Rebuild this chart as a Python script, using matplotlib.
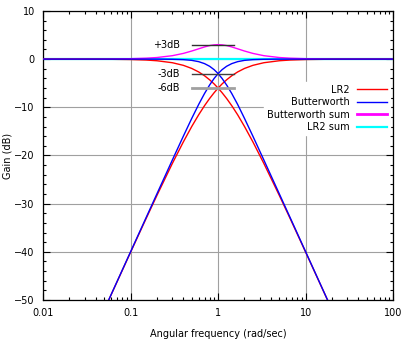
import matplotlib
matplotlib.use("Agg")
import matplotlib.pyplot as plt
from matplotlib.ticker import LogLocator, MultipleLocator, NullFormatter

# angular frequency (rad/sec)
freq = [0.01, 0.02, 0.05, 0.1, 0.15, 0.2, 0.3, 0.4, 0.5, 0.6, 0.7, 0.8, 0.9, 1.0,
        1.11, 1.25, 1.43, 1.67, 2.0, 2.5, 3.33, 5.0, 6.67, 10, 20, 50, 100]

# gain in dB
lr2_low = [0, 0, -0.02, -0.09, -0.19, -0.34, -0.75, -1.29, -1.94, -2.67, -3.46, -4.30, -5.15, -6.02,
           -6.98, -8.17, -9.66, -11.55, -13.98, -17.21, -21.66, -28.30, -33.15, -40.09, -52.06, -67.96, -80.0]
lr2_high = [-80.0, -67.96, -52.06, -40.09, -33.15, -28.30, -21.66, -17.21, -13.98, -11.55, -9.66, -8.17, -6.98, -6.02,
            -5.15, -4.30, -3.46, -2.67, -1.94, -1.29, -0.75, -0.34, -0.19, -0.09, -0.02, 0, 0]
bw_low = [0, 0, 0, 0, 0, -0.01, -0.04, -0.11, -0.26, -0.53, -0.94, -1.49, -2.19, -3.01,
          -4.02, -5.37, -7.13, -9.40, -12.30, -16.03, -20.95, -27.97, -32.96, -40.0, -52.04, -67.96, -80.0]
bw_high = [-80.0, -67.96, -52.04, -40.0, -32.96, -27.97, -20.95, -16.03, -12.30, -9.40, -7.13, -5.37, -4.02, -3.01,
           -2.19, -1.49, -0.94, -0.53, -0.26, -0.11, -0.04, -0.01, 0, 0, 0, 0, 0]
bw_sum = [0, 0, 0.02, 0.09, 0.19, 0.33, 0.71, 1.18, 1.68, 2.14, 2.53, 2.81, 2.96, 3.01,
          2.96, 2.81, 2.53, 2.14, 1.68, 1.18, 0.71, 0.33, 0.19, 0.09, 0.02, 0, 0]
lr2_sum = [0] * len(freq)

# reference level markers
mark_labels = ["+3dB", "-3dB", "-6dB"]
mark_levels = [3, -3, -6]
mark_colors = ["#303030", "#404040", "#a0a0a0"]
mark_widths = [1.0, 1.0, 2.0]

plt.rcParams["font.family"] = "DejaVu Sans"
plt.rcParams["font.size"] = 6.5

fig = plt.figure(figsize=(4.1, 3.42), dpi=100)
ax = fig.add_axes([0.105, 0.123, 0.854, 0.845])

ax.plot(freq, lr2_sum, color="#00ffff", lw=1.6, label="LR2 sum", zorder=2)
ax.plot(freq, bw_sum, color="#ff00ff", lw=1.0, zorder=3)
ax.plot(freq, lr2_low, color="#ff0000", lw=1.0, label="LR2", zorder=3)
ax.plot(freq, lr2_high, color="#ff0000", lw=1.0, zorder=3)
ax.plot(freq, bw_low, color="#0000ff", lw=1.0, label="Butterworth", zorder=3)
ax.plot(freq, bw_high, color="#0000ff", lw=1.0, zorder=3)
ax.plot([], [], color="#ff00ff", lw=2.0, label="Butterworth sum")

for lab, lev, c, w in zip(mark_labels, mark_levels, mark_colors, mark_widths):
    ax.plot([0.5, 1.5], [lev, lev], color=c, lw=w, zorder=4)
    ax.text(0.37, lev, lab, ha="right", va="center", fontsize=7)

ax.set_xscale("log")
ax.set_xlim(0.01, 100)
ax.set_ylim(-50, 10)
ax.set_xticks([0.01, 0.1, 1, 10, 100])
ax.set_xticklabels(["0.01", "0.1", "1", "10", "100"])
ax.xaxis.set_minor_locator(LogLocator(base=10, subs=range(2, 10)))
ax.xaxis.set_minor_formatter(NullFormatter())
ax.yaxis.set_major_locator(MultipleLocator(10))
ax.yaxis.set_minor_locator(MultipleLocator(2))

ax.tick_params(which="both", direction="in", top=True, right=True, width=0.8)
ax.tick_params(which="major", length=5, pad=6, labelsize=7)
ax.tick_params(which="minor", length=2.5)
ax.grid(True, which="major", color="#a0a0a0", lw=0.8, zorder=1)
ax.set_axisbelow(True)
for s in ax.spines.values():
    s.set_linewidth(0.9)

handles, labels = ax.get_legend_handles_labels()
order = ["LR2", "Butterworth", "Butterworth sum", "LR2 sum"]
hmap = dict(zip(labels, handles))
leg = ax.legend([hmap[k] for k in order], order, loc="upper right",
                bbox_to_anchor=(0.99, 0.755), markerfirst=False, fontsize=7,
                frameon=True, fancybox=False, borderpad=0.3, borderaxespad=0,
                labelspacing=0.25, handlelength=3.1, handletextpad=0.7)
leg.get_frame().set_facecolor("white")
leg.get_frame().set_edgecolor("white")
leg.get_frame().set_alpha(1)

ax.set_xlabel("Angular frequency (rad/sec)", fontsize=7, labelpad=8)
ax.set_ylabel("Gain (dB)", fontsize=7)
ax.yaxis.set_label_coords(-0.088, 0.5)

fig.savefig("out.png", dpi=100)
